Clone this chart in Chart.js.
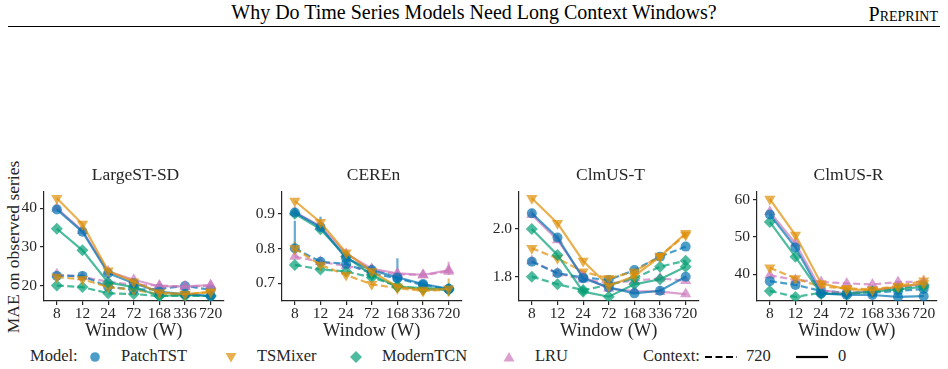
<!DOCTYPE html>
<html>
<head>
<meta charset="utf-8">
<script src="https://cdn.jsdelivr.net/npm/chart.js@4.4.1/dist/chart.umd.min.js"></script>
<style>
  html, body { margin:0; padding:0; background:#fff; }
  body { width:948px; height:369px; position:relative; overflow:hidden; font-family:"Liberation Serif", serif; color:#262626; }
  .abs { position:absolute; white-space:nowrap; }
  canvas { position:absolute; }
  .ptitle { font-size:17.5px; transform:translateX(-50%); top:164px; }
  .leg { top:346px; font-size:16.5px; line-height:20px; }
</style>
</head>
<body>
<div class="abs" id="hdr" style="left:474px; top:1px; font-size:20px; transform:translateX(-50%); color:#000;">Why Do Time Series Models Need Long Context Windows?</div>
<div class="abs" style="right:10px; top:3px; font-size:20px; font-variant:small-caps; color:#000;">Preprint</div>
<div class="abs" style="left:8px; top:26px; width:932px; height:1.2px; background:#000;"></div>

<div class="abs" style="left:13px; top:247px; font-size:17.5px; transform:translate(-50%,-50%) rotate(-90deg);">MAE on observed series</div>

<canvas id="c0" width="230" height="182" style="left:0px; top:160px;"></canvas>
<canvas id="c1" width="230" height="182" style="left:238px; top:160px;"></canvas>
<canvas id="c2" width="230" height="182" style="left:475px; top:160px;"></canvas>
<canvas id="c3" width="230" height="182" style="left:713px; top:160px;"></canvas>

<div id="titles"></div>
<div id="legend"></div>

<script>
// ---------- DATA ----------
const windows = ['8', '12', '24', '72', '168', '336', '720'];
const models = ['PatchTST', 'TSMixer', 'ModernTCN', 'LRU'];
const contexts = ['720', '0'];
const panelTitles = ['LargeST-SD', 'CEREn', 'ClmUS-T', 'ClmUS-R'];

// LargeST-SD
const largest_ctx0_PatchTST  = [39.7, 33.9, 23.2, 20.6, 18.4, 17.8, 17.3];
const largest_ctx0_TSMixer   = [42.6, 35.9, 23.8, 21.0, 18.2, 17.8, 18.3];
const largest_ctx0_ModernTCN = [34.7, 29.1, 20.8, 19.6, 17.3, 17.6, 17.3];
const largest_ctx0_LRU       = [40.0, 34.2, 23.6, 21.5, 19.8, 19.8, 20.1];
const largest_ctx720_PatchTST  = [22.5, 22.5, 19.7, 18.9, 19.1, 19.9, 18.9];
const largest_ctx720_TSMixer   = [22.2, 21.6, 19.6, 18.9, 17.8, 17.6, 18.4];
const largest_ctx720_ModernTCN = [20.0, 19.6, 18.0, 17.8, 17.3, 17.3, 17.3];
const largest_ctx720_LRU       = [22.9, 22.2, 21.0, 20.2, 20.0, 19.7, 20.0];
const largest_yticks = [20, 30, 40];

// CEREn
const ceren_ctx0_PatchTST  = [0.904, 0.862, 0.772, 0.738, 0.717, 0.698, 0.684];
const ceren_ctx0_TSMixer   = [0.937, 0.876, 0.788, 0.734, 0.690, 0.681, 0.684];
const ceren_ctx0_ModernTCN = [0.900, 0.856, 0.777, 0.724, 0.690, 0.686, 0.684];
const ceren_ctx0_LRU       = [0.905, 0.865, 0.785, 0.742, 0.729, 0.724, 0.738];
const ceren_ctx720_PatchTST  = [0.801, 0.762, 0.756, 0.729, 0.714, 0.695, 0.683];
const ceren_ctx720_TSMixer   = [0.800, 0.753, 0.724, 0.697, 0.686, 0.678, 0.681];
const ceren_ctx720_ModernTCN = [0.753, 0.740, 0.734, 0.717, 0.692, 0.683, 0.681];
const ceren_ctx720_LRU       = [0.777, 0.762, 0.750, 0.738, 0.726, 0.724, 0.734];
const ceren_yticks = [0.7, 0.8, 0.9];

// ClmUS-T
const clmt_ctx0_PatchTST  = [2.066, 1.964, 1.793, 1.755, 1.730, 1.741, 1.800];
const clmt_ctx0_TSMixer   = [2.129, 2.024, 1.866, 1.761, 1.803, 1.884, 1.982];
const clmt_ctx0_ModernTCN = [2.000, 1.891, 1.737, 1.716, 1.768, 1.789, 1.842];
const clmt_ctx0_LRU       = [2.060, 1.954, 1.800, 1.750, 1.740, 1.737, 1.727];
const clmt_ctx720_PatchTST  = [1.863, 1.814, 1.797, 1.786, 1.828, 1.884, 1.926];
const clmt_ctx720_TSMixer   = [1.919, 1.877, 1.821, 1.793, 1.821, 1.887, 1.975];
const clmt_ctx720_ModernTCN = [1.800, 1.768, 1.744, 1.765, 1.793, 1.842, 1.867];
const clmt_ctx720_LRU       = [1.866, 1.814, 1.789, 1.772, 1.783, 1.793, 1.783];
const clmt_yticks = [1.8, 2.0];

// ClmUS-R
const clmr_ctx0_PatchTST  = [56.0, 47.2, 34.9, 34.5, 34.5, 34.0, 34.2];
const clmr_ctx0_TSMixer   = [60.1, 50.5, 37.6, 36.0, 35.8, 36.7, 37.6];
const clmr_ctx0_ModernTCN = [54.0, 44.7, 34.8, 34.8, 35.4, 36.0, 36.7];
const clmr_ctx0_LRU       = [56.7, 48.3, 35.8, 34.9, 35.6, 36.7, 37.4];
const clmr_ctx720_PatchTST  = [38.2, 37.2, 35.6, 35.1, 35.1, 35.6, 36.1];
const clmr_ctx720_TSMixer   = [41.8, 38.9, 36.7, 36.3, 36.0, 36.9, 38.3];
const clmr_ctx720_ModernTCN = [35.6, 34.0, 35.1, 34.9, 35.6, 36.3, 37.2];
const clmr_ctx720_LRU       = [39.8, 38.5, 38.0, 37.6, 37.3, 38.0, 38.0];
const clmr_yticks = [40, 50, 60];

// error bars: [model, context, window index, low, high]
const largest_err = [];
const ceren_err = [
  ['PatchTST', '720', 0, 0.785, 0.880],
  ['TSMixer', '720', 0, 0.780, 0.820],
  ['PatchTST', '0', 1, 0.850, 0.892],
  ['PatchTST', '0', 3, 0.726, 0.755],
  ['PatchTST', '0', 4, 0.700, 0.772],
  ['TSMixer', '720', 6, 0.662, 0.714],
  ['LRU', '720', 6, 0.724, 0.762]
];
const clmt_err = [];
const clmr_err = [
  ['TSMixer', '0', 6, 35.8, 39.8]
];

// ---------- STYLE ----------
const colors = { PatchTST:'1,115,178', TSMixer:'222,143,5', ModernTCN:'2,158,115', LRU:'204,120,188' };
const markers = { PatchTST:['circle',0,5], TSMixer:['triangle',180,6.5], ModernTCN:['rectRot',0,6], LRU:['triangle',0,6.5] };
const ALPHA = 0.7;
const INK = '#262626';
const FONT = 'Liberation Serif';

const panels = [
  { id:'c0', min:16.0, max:44.2, ticks:largest_yticks, dec:0, err:largest_err,
    data:{ '0':{PatchTST:largest_ctx0_PatchTST, TSMixer:largest_ctx0_TSMixer, ModernTCN:largest_ctx0_ModernTCN, LRU:largest_ctx0_LRU},
           '720':{PatchTST:largest_ctx720_PatchTST, TSMixer:largest_ctx720_TSMixer, ModernTCN:largest_ctx720_ModernTCN, LRU:largest_ctx720_LRU} } },
  { id:'c1', min:0.649, max:0.963, ticks:ceren_yticks, dec:1, err:ceren_err,
    data:{ '0':{PatchTST:ceren_ctx0_PatchTST, TSMixer:ceren_ctx0_TSMixer, ModernTCN:ceren_ctx0_ModernTCN, LRU:ceren_ctx0_LRU},
           '720':{PatchTST:ceren_ctx720_PatchTST, TSMixer:ceren_ctx720_TSMixer, ModernTCN:ceren_ctx720_ModernTCN, LRU:ceren_ctx720_LRU} } },
  { id:'c2', min:1.698, max:2.155, ticks:clmt_yticks, dec:1, err:clmt_err,
    data:{ '0':{PatchTST:clmt_ctx0_PatchTST, TSMixer:clmt_ctx0_TSMixer, ModernTCN:clmt_ctx0_ModernTCN, LRU:clmt_ctx0_LRU},
           '720':{PatchTST:clmt_ctx720_PatchTST, TSMixer:clmt_ctx720_TSMixer, ModernTCN:clmt_ctx720_ModernTCN, LRU:clmt_ctx720_LRU} } },
  { id:'c3', min:32.9, max:62.0, ticks:clmr_yticks, dec:0, err:clmr_err,
    data:{ '0':{PatchTST:clmr_ctx0_PatchTST, TSMixer:clmr_ctx0_TSMixer, ModernTCN:clmr_ctx0_ModernTCN, LRU:clmr_ctx0_LRU},
           '720':{PatchTST:clmr_ctx720_PatchTST, TSMixer:clmr_ctx720_TSMixer, ModernTCN:clmr_ctx720_ModernTCN, LRU:clmr_ctx720_LRU} } }
];

const drawOrder = [['0','TSMixer'],['0','PatchTST'],['0','ModernTCN'],['0','LRU'],
                   ['720','TSMixer'],['720','PatchTST'],['720','ModernTCN'],['720','LRU']];

const errPlugin = {
  id:'errbars',
  beforeDatasetsDraw(chart, args, opts) {
    const list = opts.list || [];
    const ctx = chart.ctx, xs = chart.scales.x, ys = chart.scales.y;
    ctx.save();
    ctx.lineWidth = 2.2;
    list.forEach(([m, c, i, lo, hi]) => {
      const x = xs.getPixelForValue(i);
      ctx.strokeStyle = `rgba(${colors[m]},0.6)`;
      ctx.beginPath();
      ctx.moveTo(x, ys.getPixelForValue(lo));
      ctx.lineTo(x, ys.getPixelForValue(hi));
      ctx.stroke();
    });
    ctx.restore();
  }
};

panels.forEach(p => {
  const datasets = drawOrder.map(([c, m]) => ({
    label: m + ' (context ' + c + ')',
    data: p.data[c][m],
    borderColor: `rgba(${colors[m]},${ALPHA})`,
    backgroundColor: `rgba(${colors[m]},${ALPHA})`,
    borderWidth: 2.2,
    borderDash: c === '720' ? [7, 3.5] : [],
    pointStyle: markers[m][0],
    rotation: markers[m][1],
    pointRadius: markers[m][2],
    pointBorderWidth: 0,
    pointHoverRadius: markers[m][2],
    tension: 0
  }));
  new Chart(document.getElementById(p.id), {
    type:'line',
    data:{ labels: windows, datasets },
    plugins:[errPlugin],
    options:{
      responsive:false, animation:false,
      layout:{ padding:{ top:32, right:3, left:0, bottom:0 } },
      plugins:{ legend:{display:false}, tooltip:{enabled:false}, errbars:{ list:p.err } },
      scales:{
        x:{ type:'category', offset:true,
            grid:{ display:true, offset:false, drawOnChartArea:false, drawTicks:true, tickLength:4, color:INK, lineWidth:1.2 },
            border:{ display:true, color:INK, width:1.2 },
            ticks:{ color:INK, font:{family:FONT, size:15.5}, padding:0, maxRotation:0, autoSkip:false },
            title:{ display:true, text:'Window (W)', color:INK, font:{family:FONT, size:18.5}, padding:0 },
            afterFit: s => { s.height = 41; } },
        y:{ min:p.min, max:p.max,
            afterBuildTicks: s => { s.ticks = p.ticks.map(v => ({ value:v })); },
            grid:{ display:true, drawOnChartArea:false, drawTicks:true, tickLength:4, color:INK, lineWidth:1.2 },
            border:{ display:true, color:INK, width:1.2 },
            ticks:{ color:INK, font:{family:FONT, size:15.5}, padding:3, callback: v => Number(v).toFixed(p.dec) },
            afterFit: s => { s.width = 44; } }
      }
    }
  });
});

// subplot titles
const titleCenters = [135.5, 373.5, 610.5, 848.5];
const tdiv = document.getElementById('titles');
panelTitles.forEach((t, i) => {
  const d = document.createElement('div');
  d.className = 'abs ptitle';
  d.style.left = titleCenters[i] + 'px';
  d.textContent = t;
  tdiv.appendChild(d);
});

// legend
function markerSVG(m) {
  const col = `rgba(${colors[m]},${ALPHA})`;
  let shape = '';
  if (m === 'PatchTST') shape = `<circle cx="7" cy="7" r="4.8" fill="${col}"/>`;
  if (m === 'TSMixer') shape = `<polygon points="1.5,3 12.5,3 7,12.5" fill="${col}"/>`;
  if (m === 'ModernTCN') shape = `<polygon points="7,1 13,7 7,13 1,7" fill="${col}"/>`;
  if (m === 'LRU') shape = `<polygon points="1.5,11.5 12.5,11.5 7,2" fill="${col}"/>`;
  return `<svg width="14" height="14" viewBox="0 0 14 14">${shape}</svg>`;
}
const leg = document.getElementById('legend');
const legItems = [
  ['text', 'Model:', 30],
  ['mark', 'PatchTST', 95], ['text', 'PatchTST', 121],
  ['mark', 'TSMixer', 231], ['text', 'TSMixer', 257],
  ['mark', 'ModernTCN', 356], ['text', 'ModernTCN', 382],
  ['mark', 'LRU', 509], ['text', 'LRU', 535],
  ['text', 'Context:', 643],
  ['dash', '', 705], ['text', '720', 746],
  ['solid', '', 796], ['text', '0', 838]
];
legItems.forEach(([kind, val, x]) => {
  const d = document.createElement('div');
  d.className = 'abs leg';
  if (kind === 'text') { d.style.left = x + 'px'; d.textContent = val; }
  else if (kind === 'mark') { d.style.left = (x - 7) + 'px'; d.style.top = '349px'; d.innerHTML = markerSVG(val); }
  else {
    d.style.left = x + 'px'; d.style.top = '349px';
    d.innerHTML = kind === 'dash'
      ? '<svg width="32" height="14"><line x1="0" y1="7" x2="32" y2="7" stroke="#000" stroke-width="2.2" stroke-dasharray="7,3.5"/></svg>'
      : '<svg width="32" height="14"><line x1="0" y1="7" x2="32" y2="7" stroke="#000" stroke-width="2.2"/></svg>';
  }
  leg.appendChild(d);
});
</script>
</body>
</html>
